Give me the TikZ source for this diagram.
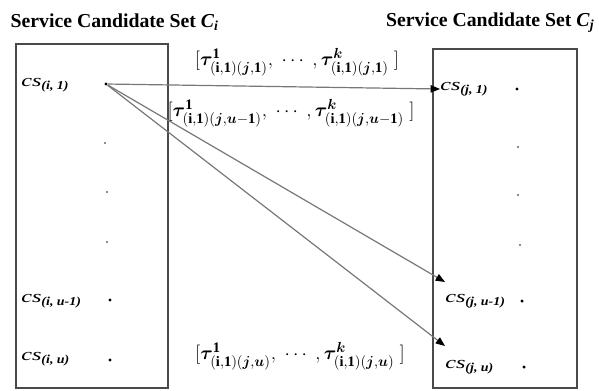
\documentclass[tikz,border=0pt]{standalone}
\usepackage{amsmath, amssymb, bm, graphicx}
\usepackage{fontspec}
\setmainfont{Liberation Serif}
\usepackage{tikz}
\usetikzlibrary{arrows.meta, positioning, calc}
\usepackage{xcolor}
\definecolor{boxGray}{HTML}{4A4A4A}
\definecolor{lineGray}{HTML}{777777}
\definecolor{dotGray}{HTML}{666666}

\newcommand{\cslab}[2]{\scalebox{1.4}[1]{\textit{cs}}\scalebox{1.15}[1]{\textsubscript{\textbf{\textit{(#1, #2)}}}}}
\newcommand{\taulab}[1]{$[\bm{\tau}^{\mathbf{1}}_{\mathbf{(i,1)}(\bm{j}\mathbf{,}#1)},\;
  \cdots\;,\bm{\tau}^{\bm{k}}_{\mathbf{(i,1)}(\bm{j}\mathbf{,}#1)}\;]$}

\begin{document}
\begin{tikzpicture}[
      x=0.75pt, y=-0.75pt,
      title/.style={font=\fontsize{14.8}{17}\selectfont\bfseries},
      set/.style={draw=boxGray, line width=1.2pt},
      cs/.style={font=\fontsize{13}{15}\selectfont, anchor=west, inner sep=0pt},
      dot/.style={circle, fill=black, inner sep=0pt, minimum size=2.6pt},
      vdot/.style={circle, fill=dotGray, inner sep=0pt, minimum size=1.8pt},
      tau/.style={font=\fontsize{15.5}{18}\selectfont, inner sep=0pt},
      link/.style={draw=lineGray, line width=0.9pt,
                   -{Triangle[length=7pt, width=5.5pt, fill=black, color=black]}}
    ]
    \useasboundingbox (0,0) rectangle (599,390);

    % the two candidate sets
    \node[title, anchor=west] (titleI) at (6,22) {Service Candidate Set \textit{C}\textsubscript{\textit{i}}};
    \node[title, anchor=east] (titleJ) at (599,23) {Service Candidate Set \textit{C}\textsubscript{\textit{j}}};
    \draw[set] (16,44) rectangle (168,388);
    \draw[set] (433,49) rectangle (577,388);

    % left set
    \node[cs] (ci1) at (21,85) {\cslab{i}{1}};
    \node[cs] (ciu1) at (21,301) {\cslab{i}{u-1}};
    \node[cs] (ciu) at (21,359) {\cslab{i}{u}};
    \node[dot] (a1) at (106,84) {};
    \node[vdot] (av1) at (105,143) {};
    \node[vdot] (av2) at (107,192) {};
    \node[vdot] (av3) at (107,242) {};
    \node[dot] (au1) at (110,300) {};
    \node[dot] (au) at (110,360) {};

    % right set
    \node[cs] (cj1) at (440,89) {\cslab{j}{1}};
    \node[cs] (cju1) at (445,301) {\cslab{j}{u-1}};
    \node[cs] (cju) at (445,367) {\cslab{j}{u}};
    \node[dot] (b1) at (517,89) {};
    \node[vdot] (bv1) at (518,147) {};
    \node[vdot] (bv2) at (518,195) {};
    \node[vdot] (bv3) at (520,245) {};
    \node[dot] (bu1) at (522,301) {};
    \node[dot] (bu) at (524,367) {};

    \coordinate (tju1) at (445,282);
    \coordinate (tju) at (445,346);

    % links with their weight vectors
    \draw[link] (a1) -- (cj1.west);
    \draw[link] (a1) -- (tju1);
    \draw[link] (a1) -- (tju);
    \node[tau] (w1) at (297,62) {\taulab{\mathbf{1}}};
    \node[tau] (wu1) at (291,113) {\taulab{\bm{u}\mathbf{-1}}};
    \node[tau] (wu) at (300,356) {\taulab{\bm{u}}};
  \end{tikzpicture}
\end{document}
